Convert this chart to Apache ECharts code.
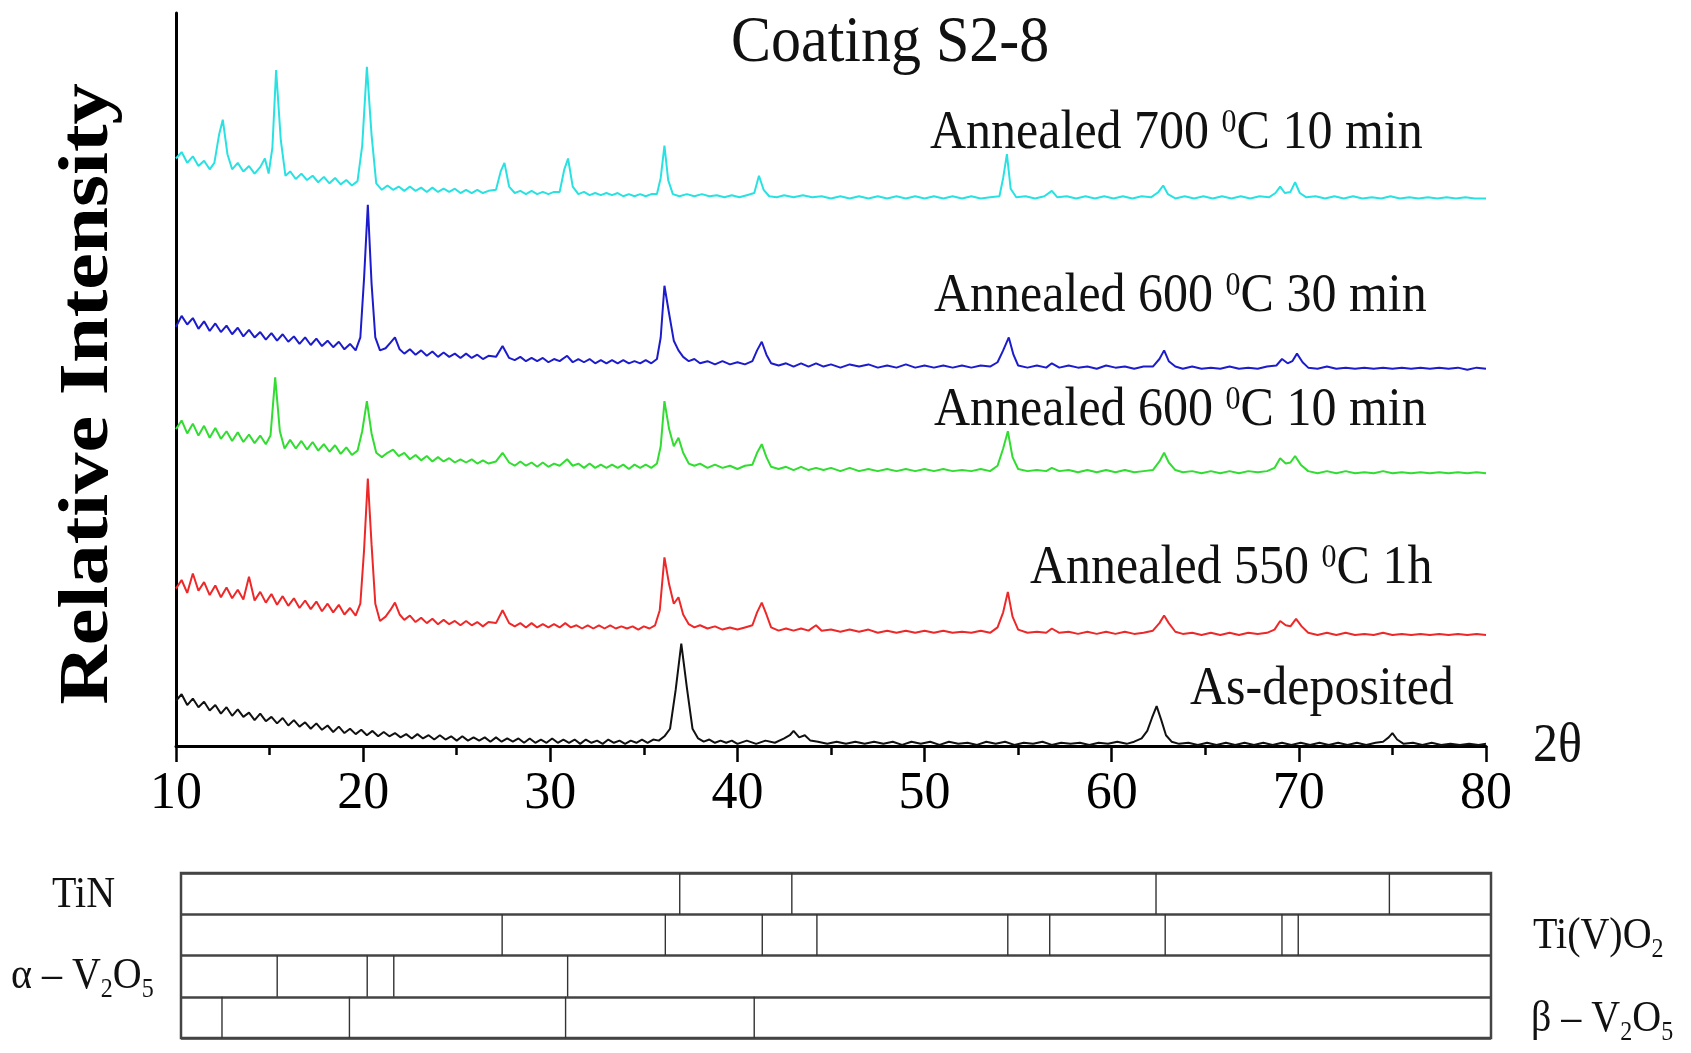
<!DOCTYPE html>
<html>
<head>
<meta charset="utf-8">
<script src="https://cdn.jsdelivr.net/npm/echarts@6/dist/echarts.min.js"></script>
<style>html,body{margin:0;padding:0;background:#fff;}#c{width:1691px;height:1053px;}</style>
</head>
<body>
<div id="c"></div>
<script>
// ---- data: [2θ, relative intensity above each trace's own baseline] ----
var asDeposited = [[10,42],[10.3,48],[10.6,38],[10.9,44],[11.2,36],[11.5,41],[11.8,33],[12.1,38],[12.4,30],[12.7,36],[13,28],[13.3,34],[13.6,27],[13.9,31],[14.2,24],[14.5,30],[14.8,23],[15.1,27],[15.4,21],[15.7,26],[16,19],[16.3,24],[16.6,18],[16.9,22],[17.2,16],[17.5,21],[17.8,15],[18.1,19],[18.4,13],[18.7,18],[19,12],[19.3,16],[19.6,11],[19.9,15],[20.2,10],[20.5,14],[20.8,9],[21.1,13],[21.4,9],[21.7,12],[22,8],[22.3,11],[22.6,7],[22.9,11],[23.2,7],[23.5,10],[23.8,6],[24.1,10],[24.4,6],[24.7,9],[25,5],[25.3,9],[25.6,5],[25.9,8],[26.2,5],[26.5,8],[26.8,4],[27.1,8],[27.4,4],[27.7,7],[28,4],[28.3,7],[28.6,3],[28.9,7],[29.2,3],[29.5,6],[29.8,3],[30.1,7],[30.4,3],[30.7,6],[31,3],[31.3,6],[31.6,2],[31.9,6],[32.2,3],[32.5,5],[32.8,2],[33.1,6],[33.4,3],[33.7,5],[34,2],[34.3,5],[34.6,3],[34.9,6],[35.2,3],[35.5,6],[35.8,5],[36.1,9],[36.4,16],[36.7,52],[37.0,95],[37.3,54],[37.6,16],[37.9,7],[38.2,4],[38.5,6],[38.8,3],[39.1,5],[39.4,3],[39.7,5],[40,2],[40.5,5],[41,2],[41.5,5],[42,3],[42.5,7],[42.8,10],[43.0,14],[43.3,8],[43.6,10],[43.9,5],[44.3,4],[44.8,2],[45.3,4],[45.8,2],[46.3,4],[46.8,2],[47.3,4],[47.8,2],[48.3,4],[48.8,1],[49.3,4],[49.8,2],[50.3,4],[50.8,1],[51.3,4],[51.8,2],[52.3,3],[52.8,1],[53.3,4],[53.8,2],[54.3,4],[54.8,1],[55.3,3],[55.8,2],[56.3,4],[56.8,1],[57.3,3],[57.8,2],[58.3,3],[58.8,1],[59.3,3],[59.8,2],[60.3,4],[60.8,2],[61.2,4],[61.6,7],[61.9,14],[62.15,26],[62.4,37],[62.65,24],[62.9,10],[63.2,4],[63.6,2],[64.1,3],[64.6,1],[65.1,3],[65.6,1],[66.1,3],[66.6,1],[67.1,3],[67.6,1],[68.1,3],[68.6,1],[69.1,3],[69.6,1],[70.1,3],[70.6,1],[71.1,3],[71.6,1],[72.1,3],[72.6,1],[73.1,3],[73.6,1],[74.1,3],[74.5,4],[74.8,8],[75.0,12],[75.25,6],[75.6,2],[76.1,3],[76.6,1],[77.1,3],[77.6,1],[78.1,2],[78.6,1],[79.1,2],[79.6,1],[80,2]];

var annealed550_1h = [[10,44],[10.3,52],[10.6,40],[10.9,58],[11.2,42],[11.5,50],[11.8,38],[12.1,47],[12.4,36],[12.7,45],[13,35],[13.3,43],[13.6,34],[13.9,55],[14.2,33],[14.5,41],[14.8,31],[15.1,39],[15.4,29],[15.7,37],[16,28],[16.3,35],[16.6,26],[16.9,33],[17.2,25],[17.5,32],[17.8,23],[18.1,30],[18.4,22],[18.7,29],[19,20],[19.3,26],[19.6,19],[19.85,30],[20.05,80],[20.25,146],[20.45,85],[20.65,30],[20.9,14],[21.2,18],[21.45,24],[21.7,31],[21.95,20],[22.2,15],[22.5,19],[22.8,13],[23.1,17],[23.4,12],[23.7,16],[24,11],[24.3,15],[24.6,11],[24.9,14],[25.2,10],[25.5,14],[25.8,10],[26.1,13],[26.4,9],[26.7,13],[27.1,12],[27.45,24],[27.8,12],[28.1,9],[28.4,12],[28.7,8],[29,12],[29.3,8],[29.6,11],[29.9,8],[30.2,11],[30.5,8],[30.8,12],[31.1,8],[31.4,10],[31.7,7],[32,10],[32.3,7],[32.6,10],[32.9,7],[33.2,10],[33.5,7],[33.8,9],[34.1,7],[34.4,9],[34.7,6],[35,9],[35.3,7],[35.6,10],[35.85,24],[36.1,73],[36.35,48],[36.6,30],[36.85,36],[37.1,20],[37.4,11],[37.7,8],[38,10],[38.4,7],[38.8,9],[39.2,6],[39.6,8],[40,6],[40.4,8],[40.8,10],[41.05,22],[41.3,31],[41.55,20],[41.8,8],[42.2,5],[42.6,7],[43,5],[43.4,7],[43.8,5],[44.2,10],[44.5,5],[45,6],[45.5,4],[46,6],[46.5,4],[47,6],[47.5,3],[48,5],[48.5,3],[49,5],[49.5,3],[50,5],[50.5,3],[51,5],[51.5,3],[52,4],[52.5,3],[53,5],[53.5,3],[53.9,8],[54.2,22],[54.45,41],[54.7,18],[55,6],[55.5,3],[56,4],[56.5,3],[56.8,7],[57.2,3],[57.7,4],[58.2,2],[58.7,4],[59.2,2],[59.7,4],[60.2,2],[60.7,4],[61.2,2],[61.7,3],[62.2,5],[62.55,12],[62.8,19],[63.05,12],[63.4,4],[63.8,2],[64.3,3],[64.8,1],[65.3,3],[65.8,1],[66.3,3],[66.8,1],[67.3,3],[67.8,2],[68.3,3],[68.7,6],[69.0,14],[69.3,10],[69.55,9],[69.85,16],[70.15,9],[70.5,3],[71,1],[71.5,3],[72,1],[72.5,3],[73,1],[73.5,2],[74,1],[74.5,3],[75,1],[75.5,2],[76,1],[76.5,2],[77,1],[77.5,2],[78,1],[78.5,2],[79,1],[79.5,2],[80,1]];

var annealed600_10 = [[10,42],[10.3,50],[10.6,38],[10.9,47],[11.2,36],[11.5,45],[11.8,34],[12.1,43],[12.4,33],[12.7,40],[13,31],[13.3,39],[13.6,30],[13.9,37],[14.2,29],[14.5,36],[14.8,28],[15.05,36],[15.3,90],[15.55,40],[15.8,24],[16.1,32],[16.4,24],[16.7,31],[17,23],[17.3,30],[17.6,22],[17.9,28],[18.2,21],[18.5,27],[18.8,19],[19.1,25],[19.4,18],[19.7,22],[19.95,40],[20.2,68],[20.45,38],[20.7,20],[21,16],[21.3,20],[21.6,23],[21.9,17],[22.2,20],[22.5,14],[22.8,18],[23.1,13],[23.4,17],[23.7,12],[24,16],[24.3,12],[24.6,15],[24.9,11],[25.2,14],[25.5,11],[25.8,14],[26.1,10],[26.4,13],[26.7,10],[27.1,12],[27.45,20],[27.8,11],[28.1,8],[28.4,12],[28.7,8],[29,11],[29.3,7],[29.6,11],[29.9,7],[30.2,10],[30.5,8],[30.9,14],[31.2,8],[31.5,10],[31.8,6],[32.1,10],[32.4,6],[32.7,9],[33,6],[33.3,9],[33.6,6],[33.9,9],[34.2,5],[34.5,9],[34.8,6],[35.1,9],[35.4,6],[35.7,10],[35.9,26],[36.1,68],[36.35,42],[36.6,26],[36.85,34],[37.1,20],[37.4,10],[37.7,8],[38,10],[38.4,6],[38.8,9],[39.2,6],[39.6,8],[40,5],[40.4,8],[40.8,9],[41.05,20],[41.3,28],[41.55,16],[41.8,7],[42.2,5],[42.6,7],[43,4],[43.4,7],[43.8,4],[44.2,6],[44.6,4],[45,6],[45.5,3],[46,6],[46.5,3],[47,5],[47.5,3],[48,5],[48.5,3],[49,5],[49.5,3],[50,5],[50.5,3],[51,5],[51.5,3],[52,4],[52.5,3],[53,5],[53.5,3],[53.9,8],[54.2,24],[54.45,40],[54.7,16],[55,5],[55.5,3],[56,4],[56.5,3],[56.8,6],[57.2,3],[57.7,4],[58.2,2],[58.7,4],[59.2,2],[59.7,4],[60.2,2],[60.7,4],[61.2,2],[61.7,3],[62.2,4],[62.55,12],[62.8,20],[63.05,11],[63.4,4],[63.8,2],[64.3,3],[64.8,1],[65.3,3],[65.8,1],[66.3,3],[66.8,1],[67.3,3],[67.8,2],[68.3,3],[68.7,6],[69.0,15],[69.3,10],[69.55,11],[69.8,17],[70.1,9],[70.5,3],[71,1],[71.5,3],[72,1],[72.5,3],[73,1],[73.5,2],[74,1],[74.5,3],[75,1],[75.5,2],[76,1],[76.5,2],[77,1],[77.5,2],[78,1],[78.5,2],[79,1],[79.5,2],[80,1]];

var annealed600_30 = [[10,40],[10.3,50],[10.6,42],[10.9,48],[11.2,38],[11.5,45],[11.8,36],[12.1,43],[12.4,35],[12.7,41],[13,33],[13.3,39],[13.6,31],[13.9,37],[14.2,30],[14.5,35],[14.8,28],[15.1,34],[15.4,27],[15.7,33],[16,26],[16.3,31],[16.6,24],[16.9,30],[17.2,23],[17.5,29],[17.8,22],[18.1,27],[18.4,21],[18.7,26],[19,19],[19.3,24],[19.6,18],[19.85,30],[20.05,85],[20.25,153],[20.45,80],[20.65,30],[20.9,18],[21.2,20],[21.45,25],[21.7,30],[21.95,19],[22.2,15],[22.5,19],[22.8,14],[23.1,18],[23.4,13],[23.7,17],[24,12],[24.3,16],[24.6,12],[24.9,15],[25.2,11],[25.5,15],[25.8,11],[26.1,14],[26.4,10],[26.7,13],[27.1,12],[27.45,22],[27.8,11],[28.1,9],[28.4,12],[28.7,8],[29,11],[29.3,8],[29.6,11],[29.9,7],[30.2,10],[30.5,8],[30.9,13],[31.2,7],[31.5,10],[31.8,7],[32.1,10],[32.4,6],[32.7,9],[33,6],[33.3,9],[33.6,6],[33.9,9],[34.2,6],[34.5,8],[34.8,6],[35.1,9],[35.4,6],[35.7,10],[35.9,30],[36.1,78],[36.35,52],[36.6,27],[36.85,18],[37.1,12],[37.4,8],[37.7,10],[38,6],[38.4,8],[38.8,5],[39.2,8],[39.6,5],[40,7],[40.4,5],[40.8,8],[41.05,18],[41.3,26],[41.55,14],[41.8,6],[42.2,4],[42.6,6],[43,3],[43.4,6],[43.8,3],[44.2,6],[44.6,3],[45,5],[45.5,2],[46,5],[46.5,3],[47,5],[47.5,2],[48,4],[48.5,2],[49,5],[49.5,2],[50,4],[50.5,2],[51,4],[51.5,2],[52,4],[52.5,2],[53,4],[53.5,3],[53.9,7],[54.2,18],[54.5,30],[54.75,14],[55,4],[55.5,2],[56,4],[56.5,2],[56.8,6],[57.2,2],[57.7,4],[58.2,2],[58.7,3],[59.2,1],[59.7,4],[60.2,2],[60.7,3],[61.2,1],[61.7,3],[62.2,3],[62.55,10],[62.8,18],[63.05,8],[63.4,3],[63.8,1],[64.3,3],[64.8,1],[65.3,2],[65.8,1],[66.3,3],[66.8,1],[67.3,2],[67.8,1],[68.3,3],[68.8,4],[69.1,10],[69.4,6],[69.65,8],[69.9,15],[70.2,7],[70.5,2],[71,1],[71.5,3],[72,1],[72.5,2],[73,1],[73.5,2],[74,1],[74.5,2],[75,1],[75.5,2],[76,1],[76.5,2],[77,1],[77.5,2],[78,1],[78.5,2],[79,0],[79.5,2],[80,1]];

var annealed700_10 = [[10,38],[10.3,44],[10.6,34],[10.9,40],[11.2,31],[11.5,36],[11.8,28],[12.05,34],[12.3,60],[12.5,74],[12.75,42],[13,28],[13.3,34],[13.6,26],[13.9,31],[14.2,24],[14.5,30],[14.75,38],[14.95,24],[15.15,48],[15.35,120],[15.6,55],[15.85,22],[16.1,26],[16.4,19],[16.7,24],[17,18],[17.3,22],[17.6,16],[17.9,21],[18.2,15],[18.5,20],[18.8,14],[19.1,18],[19.4,13],[19.7,17],[19.95,50],[20.2,123],[20.45,60],[20.7,15],[21,9],[21.3,13],[21.6,9],[21.9,12],[22.2,8],[22.5,12],[22.8,8],[23.1,11],[23.4,7],[23.7,11],[24,7],[24.3,10],[24.6,7],[24.9,10],[25.2,6],[25.5,9],[25.8,6],[26.1,9],[26.4,6],[26.7,8],[27.1,9],[27.35,26],[27.55,34],[27.8,12],[28.1,6],[28.4,8],[28.7,5],[29,8],[29.3,5],[29.6,7],[29.9,5],[30.2,7],[30.5,7],[30.75,28],[30.95,38],[31.2,12],[31.5,5],[31.8,7],[32.1,4],[32.4,6],[32.7,4],[33,6],[33.3,4],[33.6,6],[33.9,3],[34.2,5],[34.5,3],[34.8,5],[35.1,3],[35.4,5],[35.7,5],[35.9,20],[36.1,50],[36.3,18],[36.55,5],[36.9,3],[37.3,5],[37.7,3],[38.1,5],[38.5,3],[38.9,4],[39.3,2],[39.7,4],[40.1,2],[40.5,4],[40.9,6],[41.15,22],[41.4,9],[41.7,3],[42.1,2],[42.5,4],[43,2],[43.5,4],[44,2],[44.5,3],[45,1],[45.5,3],[46,1],[46.5,3],[47,1],[47.5,3],[48,1],[48.5,3],[49,1],[49.5,3],[50,1],[50.5,3],[51,1],[51.5,3],[52,1],[52.5,3],[53,1],[53.5,2],[54,3],[54.2,20],[54.4,42],[54.6,10],[54.9,2],[55.4,3],[55.9,1],[56.4,3],[56.8,8],[57.1,2],[57.6,3],[58.1,1],[58.6,3],[59.1,1],[59.6,3],[60.1,1],[60.6,3],[61.1,1],[61.6,3],[62.1,2],[62.5,7],[62.75,13],[63.0,5],[63.4,1],[63.9,3],[64.4,1],[64.9,3],[65.4,1],[65.9,3],[66.4,1],[66.9,3],[67.4,1],[67.9,3],[68.4,2],[68.75,6],[69.0,12],[69.25,6],[69.55,7],[69.8,16],[70.05,6],[70.4,2],[70.9,3],[71.4,1],[71.9,3],[72.4,1],[72.9,3],[73.4,1],[73.9,2],[74.4,1],[74.9,3],[75.4,1],[75.9,2],[76.4,1],[76.9,2],[77.4,1],[77.9,2],[78.4,1],[78.9,2],[79.4,1],[80,1]];

// vertical offsets of the stacked traces (intensity units)
var seriesNames = ['As-deposited', 'Annealed 550 °C 1h', 'Annealed 600 °C 10 min', 'Annealed 600 °C 30 min', 'Annealed 700 °C 10 min'];
var seriesOffsets = [0, 102, 252, 349, 507];
var seriesColors = ['#111111', '#EE2828', '#30DD30', '#1C1CCC', '#28E2E2'];

// x-axis ticks
var xMin = 10, xMax = 80, xInterval = 10;

// reference peak positions (2θ) for the phase bars
var phaseRows = ['TiN', 'Ti(V)O2', 'α-V2O5', 'β-V2O5'];
var tinLines = [36.94, 42.93, 62.39, 74.86];
var tivo2Lines = [27.45, 36.17, 41.35, 44.27, 54.47, 56.71, 62.88, 69.12, 69.99];
var alphaV2O5Lines = [15.43, 20.24, 21.66, 30.95];
var betaV2O5Lines = [12.48, 19.29, 30.84, 40.92];

// ---- build ----
var traces = [asDeposited, annealed550_1h, annealed600_10, annealed600_30, annealed700_10];
var lineSeries = traces.map(function (t, i) {
  return {
    type: 'line', name: seriesNames[i], xAxisIndex: 0, yAxisIndex: 0,
    data: t.map(function (p) { return [p[0], p[1] + seriesOffsets[i]]; }),
    showSymbol: false, symbol: 'none', smooth: false,
    lineStyle: { color: seriesColors[i], width: 2 },
    z: 3
  };
});
var barData = [];
[tinLines, tivo2Lines, alphaV2O5Lines, betaV2O5Lines].forEach(function (arr, r) {
  arr.forEach(function (x) { barData.push([x, r]); });
});
var barSeries = {
  type: 'custom', xAxisIndex: 1, yAxisIndex: 1, data: barData,
  renderItem: function (params, api) {
    var x = api.value(0), r = api.value(1);
    var a = api.coord([x, r]), b = api.coord([x, r + 1]);
    return { type: 'line', shape: { x1: a[0], y1: a[1], x2: b[0], y2: b[1] }, style: { stroke: '#333', lineWidth: 1.4 } };
  },
  z: 3
};

var serif = '"Liberation Serif", "Times New Roman", serif';
function txt(x, y, text, size, extra) {
  var el = {
    type: 'text', x: x, y: y, scaleY: 1.1, z: 10,
    style: Object.assign({ text: text, fontSize: size, fontFamily: serif, fill: '#111', textAlign: 'left', textVerticalAlign: 'middle',
      rich: {
        sup: { fontSize: Math.round(size * 0.6), fontFamily: serif, fill: '#111', verticalAlign: 'top', lineHeight: size },
        sub: { fontSize: Math.round(size * 0.6), fontFamily: serif, fill: '#111', verticalAlign: 'bottom', lineHeight: size * 1.25 },
        n: { fontSize: size, fontFamily: serif, fill: '#111', lineHeight: size }
      } }, extra || {})
  };
  return el;
}

var graphics = [
  txt(731, 44, 'Coating S2-8', 60),
  txt(930, 134, '{n|Annealed 700 }{sup|0}{n|C 10 min}', 50),
  txt(934, 297, '{n|Annealed 600 }{sup|0}{n|C 30 min}', 50),
  txt(934, 411, '{n|Annealed 600 }{sup|0}{n|C 10 min}', 50),
  txt(1030, 569, '{n|Annealed 550 }{sup|0}{n|C 1h}', 50),
  txt(1190, 690, 'As-deposited', 50),
  txt(1533, 747, '2θ', 50),
  txt(52, 895, 'TiN', 40),
  txt(11, 976, '{n|α – V}{sub|2}{n|O}{sub|5}', 40),
  txt(1533, 936, '{n|Ti(V)O}{sub|2}', 40),
  txt(1531, 1019, '{n|β – V}{sub|2}{n|O}{sub|5}', 40),
  {
    type: 'text', x: 89, y: 394, rotation: Math.PI / 2, scaleX: 1.18, z: 10,
    style: { text: 'Relative Intensity', fontSize: 70, fontWeight: 'bold', fontFamily: serif, fill: '#000', textAlign: 'center', textVerticalAlign: 'middle' }
  }
];

var chart = echarts.init(document.getElementById('c'), null, { renderer: 'canvas' });
chart.setOption({
  animation: false,
  backgroundColor: '#fff',
  grid: [
    { left: 176, width: 1310, top: 13, height: 733, containLabel: false },
    { left: 181, width: 1310, top: 873, height: 165, show: true, borderColor: '#444', borderWidth: 2.5, backgroundColor: 'transparent' }
  ],
  xAxis: [
    {
      gridIndex: 0, type: 'value', min: xMin, max: xMax, interval: xInterval,
      axisLine: { show: true, onZero: false, lineStyle: { color: '#000', width: 3 } },
      axisTick: { show: true, length: 16, lineStyle: { color: '#000', width: 2.5 } },
      minorTick: { show: true, splitNumber: 2, length: 9, lineStyle: { color: '#000', width: 2.5 } },
      splitLine: { show: false },
      axisLabel: { fontSize: 52, fontFamily: serif, color: '#000', margin: 22 }
    },
    { gridIndex: 1, type: 'value', min: 10.29, max: 80.29, show: false }
  ],
  yAxis: [
    {
      gridIndex: 0, type: 'value', min: 0, max: 680,
      axisLine: { show: true, onZero: false, lineStyle: { color: '#000', width: 3 } },
      axisTick: { show: false }, axisLabel: { show: false }, splitLine: { show: false }
    },
    {
      gridIndex: 1, type: 'value', min: 0, max: 4, interval: 1, inverse: true,
      axisLine: { show: false }, axisTick: { show: false }, axisLabel: { show: false },
      splitLine: { show: true, lineStyle: { color: '#444', width: 2.5 } }
    }
  ],
  graphic: graphics,
  series: lineSeries.concat([barSeries])
});
</script>
</body>
</html>
